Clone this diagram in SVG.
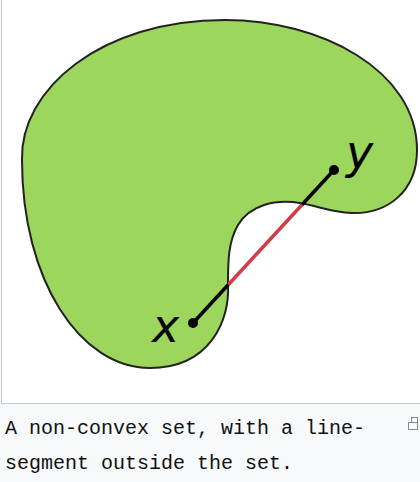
<svg xmlns="http://www.w3.org/2000/svg" width="420" height="482" viewBox="0 0 420 482">
<style>
.shape{fill:#9cd65c;stroke:#222;stroke-width:2}
.seg{stroke:#000;stroke-width:3.5;stroke-linecap:butt}
.out{stroke:#d23c48;stroke-width:3.5}
.lbl{font-family:"DejaVu Sans","Liberation Sans",sans-serif;font-style:italic;font-size:46px;fill:#000}
.cap{font-family:"Liberation Mono","DejaVu Sans Mono",monospace;font-size:20px;fill:#111}
</style>
<rect x="0" y="0" width="420" height="482" fill="#f8f9fa"/>
<rect x="2" y="0" width="418" height="403" fill="#fff"/>
<line x1="1.5" y1="0" x2="1.5" y2="404" stroke="#c8ccd1" stroke-width="1"/>
<line x1="1" y1="403.5" x2="420" y2="403.5" stroke="#c8ccd1" stroke-width="1"/>
<g id="set">
<path class="shape" d="M225,20 C320,20 417,70 417,150 C417,192 387,214 352,213 C330,212 318,206 300,203 C275,199 250,205 238,225 C228,242 228,262 228,285 C230,320 210,368 150,368 C80,368 22,280 22,160 C20,90 100,20 225,20 Z"/>
</g>
<g id="connectors">
<line class="seg" x1="193" y1="323" x2="228.5" y2="284.5"/>
<line class="out" x1="228.5" y1="284.5" x2="302" y2="204.7"/>
<line class="seg" x1="302" y1="204.7" x2="334" y2="170"/>
</g>
<g id="x">
<circle cx="193" cy="323" r="5"/>
<text class="lbl" x="152" y="342">x</text>
</g>
<g id="y">
<circle cx="334" cy="170" r="5"/>
<text class="lbl" x="346" y="168">y</text>
</g>
<g id="caption">
<text class="cap" x="5" y="434">A non-convex set, with a line-</text>
<text class="cap" x="5" y="469">segment outside the set.</text>
</g>
<g id="enlarge" fill="none" stroke="#888" stroke-width="1">
<rect x="411.5" y="417.5" width="6" height="5"/>
<rect x="408.5" y="422.5" width="9" height="7"/>
</g>
</svg>
